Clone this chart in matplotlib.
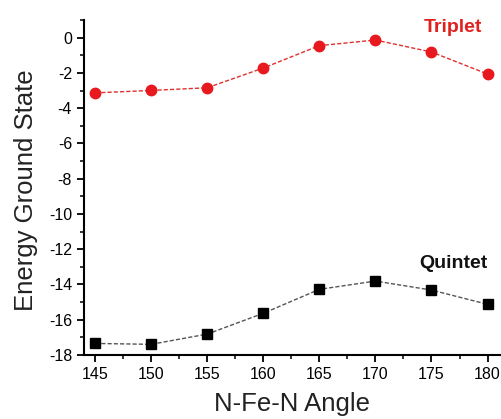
import numpy as np
import matplotlib
matplotlib.use("Agg")
import matplotlib.pyplot as plt
from matplotlib.ticker import MultipleLocator

plt.rcParams['font.family'] = ['Liberation Sans', 'DejaVu Sans']
plt.rcParams['axes.unicode_minus'] = False

# Dane
angle = [145, 150, 155, 160, 165, 170, 175, 180]
triplet = [-3.13, -2.99, -2.84, -1.72, -0.45, -0.13, -0.81, -2.06]
quintet = [-17.35, -17.40, -16.82, -15.64, -14.28, -13.81, -14.32, -15.13]

fig = plt.figure(figsize=(5.02, 4.19), dpi=100)
ax = fig.add_axes([0.167, 0.153, 0.831, 0.799])

ax.plot(angle, triplet, color='#e0302e', lw=1.0, dashes=(3, 1.5),
        marker='o', ms=7.5, mfc='#e8191e', mec='#e8191e')
ax.plot(angle, quintet, color='#555555', lw=1.0, dashes=(3, 1.5),
        marker='s', ms=7, mfc='black', mec='black')

fig.text(452.5 / 502, 1 - 32 / 419, 'Triplet', color='#e0221f', fontsize=14,
         fontweight='bold', ha='center', va='baseline')
fig.text(453 / 502, 1 - 268 / 419, 'Quintet', color='#111111', fontsize=14,
         fontweight='bold', ha='center', va='baseline')

ax.set_xlim(144.0, 181.2)
ax.set_ylim(-18, 1.0)
ax.xaxis.set_major_locator(MultipleLocator(5))
ax.xaxis.set_minor_locator(MultipleLocator(2.5))
ax.yaxis.set_major_locator(MultipleLocator(2))
ax.yaxis.set_minor_locator(MultipleLocator(1))

ax.spines['top'].set_visible(False)
ax.spines['right'].set_visible(False)
for s in ['left', 'bottom']:
    ax.spines[s].set_linewidth(1.5)
ax.tick_params(which='major', direction='out', length=5, width=1.3, labelsize=11.5)
ax.tick_params(which='minor', direction='out', length=3, width=1.1)

ax.set_xlabel('N-Fe-N Angle', fontsize=18.5, color='#222222')
ax.set_ylabel('Energy Ground State', fontsize=18.5, color='#222222')
ax.xaxis.set_label_coords(0.498, -0.11)
ax.yaxis.set_label_coords(-0.11, 0.493)

fig.savefig('out.png', dpi=100)
